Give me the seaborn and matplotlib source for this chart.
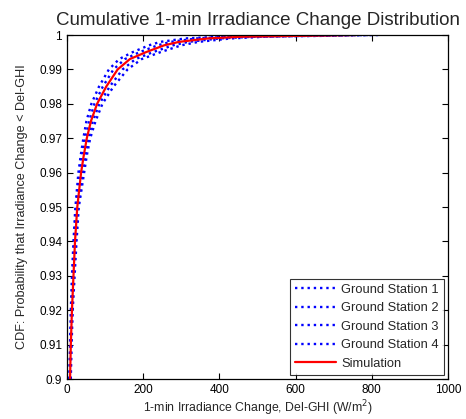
import numpy as np
import pandas as pd
import seaborn as sns
import matplotlib
matplotlib.use('Agg')
import matplotlib.pyplot as plt

# CDF levels and the irradiance change (W/m2)
cdf_levels = [0.9, 0.91, 0.92, 0.93, 0.94, 0.95, 0.96, 0.965, 0.97, 0.975, 0.98,
              0.985, 0.99, 0.993, 0.995, 0.997, 0.998, 0.999, 0.9995, 1.0]
station_1 = [6, 8, 10, 13, 17, 22, 30, 36, 43, 51, 64, 84, 110, 137, 172, 215, 245, 310, 400, 700]
station_2 = [9, 11, 14, 18, 23, 29, 41, 48, 56, 68, 85, 112, 146, 180, 225, 278, 318, 400, 490, 790]
station_3 = [7, 9, 12, 15, 19, 24, 34, 40, 48, 58, 72, 94, 122, 152, 190, 238, 272, 340, 430, 730]
station_4 = [10, 12, 15, 20, 25, 31, 45, 52, 61, 75, 93, 122, 159, 196, 245, 300, 345, 430, 520, 820]
simulation = [8, 10, 13, 17, 21, 27, 37, 44, 52, 63, 79, 103, 133, 165, 207, 255, 294, 370, 460, 760]

series_names = ['Ground Station 1', 'Ground Station 2', 'Ground Station 3',
                'Ground Station 4', 'Simulation']
series_vals = [station_1, station_2, station_3, station_4, simulation]

sns.set_style('white')
plt.rcParams['font.family'] = ['Liberation Sans', 'DejaVu Sans']

fig = plt.figure(figsize=(4.66, 4.19), dpi=100)
ax = fig.add_axes([67 / 466, 1 - 379 / 419, 381 / 466, 344 / 419])

for name, vals in zip(series_names, series_vals):
    df = pd.DataFrame({'x': vals, 'y': cdf_levels})
    if name == 'Simulation':
        sns.lineplot(data=df, x='x', y='y', ax=ax, color='red', lw=1.6,
                     estimator=None, sort=False, label=name)
    else:
        sns.lineplot(data=df, x='x', y='y', ax=ax, color='blue', lw=1.7,
                     linestyle=':', estimator=None, sort=False, label=name)

ax.set_xlim(0, 1000)
ax.set_ylim(0.9, 1.0)
ax.set_xticks(range(0, 1001, 200))
ax.set_yticks(np.round(np.arange(0.9, 1.0001, 0.01), 2))
ax.set_yticklabels(['0.9', '0.91', '0.92', '0.93', '0.94', '0.95', '0.96',
                    '0.97', '0.98', '0.99', '1'])
ax.tick_params(direction='in', length=4, width=0.8, labelsize=8.5,
               top=True, right=True, left=True, bottom=True, colors='black')
for s in ax.spines.values():
    s.set_color('black')
    s.set_linewidth(0.9)

ax.set_title('Cumulative 1-min Irradiance Change Distribution', fontsize=13.5, pad=7)
ax.set_xlabel('1-min Irradiance Change, Del-GHI (W/m$^2$)', fontsize=8.8, labelpad=2)
ax.set_ylabel('CDF: Probability that Irradiance Change < Del-GHI', fontsize=9.1, labelpad=8)

leg = ax.legend(loc='lower right', fontsize=9.3, frameon=True, fancybox=False,
                borderaxespad=0.3, handlelength=3.1, handletextpad=0.45,
                labelspacing=0.5)
leg.get_frame().set_edgecolor('black')
leg.get_frame().set_linewidth(0.8)

fig.savefig('out.png', dpi=100)
